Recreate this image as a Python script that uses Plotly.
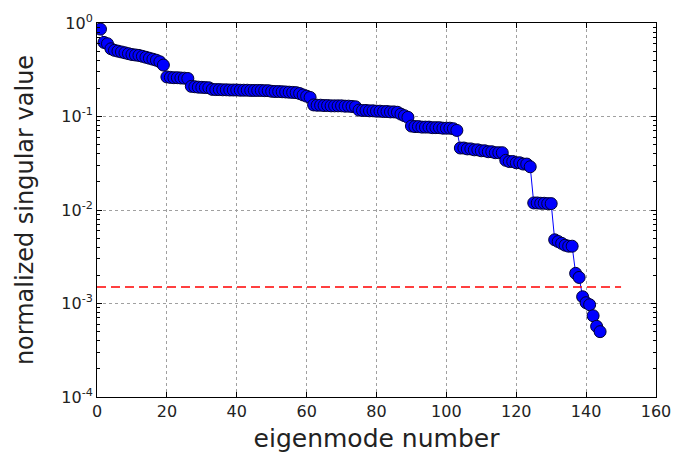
import plotly.graph_objects as go

# eigenmode index and normalized singular values
modes = list(range(1, 145))
values = (
    [0.86, 0.62, 0.60, 0.53]
    + [0.51, 0.50, 0.49, 0.48, 0.47, 0.46, 0.455, 0.45, 0.44, 0.43, 0.42, 0.41, 0.40, 0.385]
    + [0.355]
    + [0.265, 0.262, 0.26, 0.26, 0.258, 0.257, 0.255]
    + [0.21, 0.208, 0.206, 0.205, 0.204, 0.203]
    + [0.195, 0.194, 0.194, 0.193, 0.193, 0.192, 0.192, 0.192, 0.191, 0.191, 0.191, 0.19, 0.19, 0.19, 0.19, 0.189, 0.189]
    + [0.186, 0.185, 0.185, 0.184, 0.183, 0.182, 0.181, 0.18]
    + [0.176, 0.17, 0.165, 0.16]
    + [0.133, 0.132, 0.132, 0.131, 0.131, 0.13, 0.13, 0.13, 0.13, 0.129, 0.129, 0.128, 0.127]
    + [0.117, 0.116, 0.116, 0.115, 0.115, 0.114, 0.114, 0.113, 0.113, 0.112, 0.112, 0.111]
    + [0.106, 0.102, 0.098]
    + [0.079, 0.078, 0.078, 0.077, 0.077, 0.077, 0.076, 0.076, 0.076, 0.075, 0.075, 0.075, 0.074]
    + [0.071]
    + [0.046, 0.046, 0.045, 0.045, 0.044, 0.044, 0.043, 0.043, 0.042, 0.042, 0.041, 0.041, 0.041]
    + [0.034, 0.033, 0.033, 0.032, 0.032, 0.031, 0.031, 0.029]
    + [0.0119, 0.0119, 0.0118, 0.0118, 0.0117, 0.0117]
    + [0.0048, 0.0046, 0.0044, 0.0042, 0.0041, 0.0041]
    + [0.0021, 0.0019, 0.00118, 0.00102, 0.00097, 0.00074, 0.00057, 0.0005]
)
threshold = 1.5e-3
threshold_x = [0, 150]

xticks = [0, 20, 40, 60, 80, 100, 120, 140, 160]
yticks = [1e-4, 1e-3, 1e-2, 1e-1, 1e0]
yticklabels = ["10<sup>-4</sup>", "10<sup>-3</sup>", "10<sup>-2</sup>", "10<sup>-1</sup>", "10<sup>0</sup>"]

fig = go.Figure()
fig.add_trace(go.Scatter(
    x=modes, y=values, mode="lines+markers",
    line=dict(color="#0000ff", width=1),
    marker=dict(size=12, color="#0000ff", line=dict(color="#000033", width=1)),
    showlegend=False,
))
fig.add_trace(go.Scatter(
    x=threshold_x, y=[threshold, threshold], mode="lines",
    line=dict(color="#ff0000", width=1.5, dash="9px,5px"),
    showlegend=False,
))

font = "DejaVu Sans, Arial, sans-serif"
fig.update_layout(
    width=683, height=461,
    margin=dict(l=97, r=23, t=18, b=64),
    paper_bgcolor="white", plot_bgcolor="white",
    font=dict(family=font, color="#222222", size=16),
)
fig.update_xaxes(
    range=[0, 160], tickvals=xticks, ticktext=[str(v) for v in xticks],
    ticks="inside", ticklen=5, tickcolor="black",
    showline=True, linecolor="black", linewidth=1, mirror="allticks",
    showgrid=True, gridcolor="#a0a0a0", griddash="3px,3px", gridwidth=1,
    zeroline=False,
    title=dict(text="eigenmode number", font=dict(size=25), standoff=9),
)
fig.update_yaxes(
    type="log", range=[-4, 0], tickvals=yticks, ticktext=yticklabels,
    ticks="inside", ticklen=5, tickcolor="black",
    showline=True, linecolor="black", linewidth=1, mirror="allticks",
    showgrid=True, gridcolor="#a0a0a0", griddash="3px,3px", gridwidth=1,
    minor=dict(ticks="inside", ticklen=3, tickcolor="black", dtick="D1", showgrid=False),
    zeroline=False,
    title=dict(text="normalized singular value", font=dict(size=24), standoff=20),
)
fig.write_html("out.html")
